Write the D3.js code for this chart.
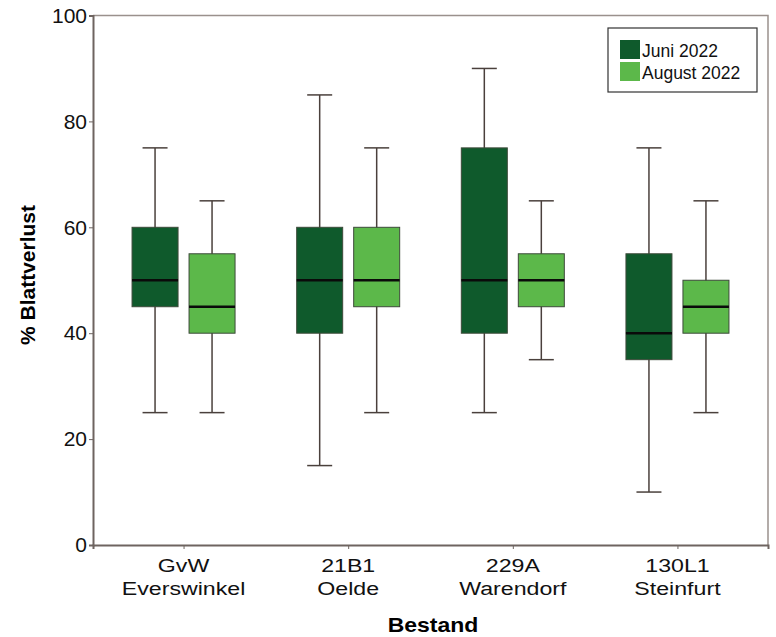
<!DOCTYPE html>
<html>
<head>
<meta charset="utf-8">
<script src="https://cdn.jsdelivr.net/npm/d3@7"></script>
<style>
  body { margin: 0; background: #fff; }
  svg { font-family: "Liberation Sans", Arial, sans-serif; }
</style>
</head>
<body>
<svg id="chart" width="776" height="637"></svg>
<script>
// data
const sites = ['GvW|Everswinkel', '21B1|Oelde', '229A|Warendorf', '130L1|Steinfurt'];
const seriesNames = ['Juni 2022', 'August 2022'];
const seriesColors = ['#0f5a2c', '#5cb84a'];
// [whisker low, q1, median, q3, whisker high]
const juni = [
    [25, 45, 50, 60, 75],
    [15, 40, 50, 60, 85],
    [25, 40, 50, 75, 90],
    [10, 35, 40, 55, 75]
];
const august = [
    [25, 40, 45, 55, 65],
    [25, 45, 50, 60, 75],
    [35, 45, 50, 55, 65],
    [25, 40, 45, 50, 65]
];
const yTicks = [0, 20, 40, 60, 80, 100];

const svg = d3.select('#chart');
const plotL = 93, plotR = 768, plotT = 15.5, plotB = 545;
const axisColor = '#6e6460';

const x = d3.scalePoint().domain(sites).range([plotL, plotR]).padding(0.55);
const y = d3.scaleLinear().domain([0, 100]).range([plotB, plotT]);

// frame (top & right)
svg.append('path')
    .attr('d', `M${plotL},${plotT}H${plotR}V${plotB}`)
    .attr('fill', 'none').attr('stroke', '#9a918d').attr('stroke-width', 1.5);

// axes
const yAxis = svg.append('g').attr('transform', `translate(${plotL},0)`)
    .call(d3.axisLeft(y).tickValues(yTicks).tickSize(4).tickPadding(2));
const xAxis = svg.append('g').attr('transform', `translate(0,${plotB})`)
    .call(d3.axisBottom(x).tickSize(4).tickFormat(''));
[yAxis, xAxis].forEach(a => {
    a.select('.domain').attr('stroke', axisColor).attr('stroke-width', 2);
    a.selectAll('.tick line').attr('stroke', axisColor);
});
yAxis.selectAll('text').attr('font-size', 21).attr('fill', '#111')
    .attr('font-family', 'Liberation Sans, Arial, sans-serif');

// category labels (two lines, the picture is a bit stretched sideways)
sites.forEach(s => {
    const parts = s.split('|');
    const g = svg.append('g').attr('transform', `translate(${x(s)},0) scale(1.22,1)`);
    parts.forEach((p, k) => {
        g.append('text').attr('x', 0).attr('y', 572 + k * 23)
            .attr('text-anchor', 'middle').attr('font-size', 19).attr('fill', '#111')
            .text(p);
    });
});

svg.append('text').attr('transform', 'translate(433,632) scale(1.15,1)')
    .attr('text-anchor', 'middle').attr('font-size', 20).attr('font-weight', 'bold')
    .text('Bestand');
svg.append('text').attr('transform', 'translate(35,275) rotate(-90)')
    .attr('text-anchor', 'middle').attr('font-size', 21).attr('font-weight', 'bold')
    .text('% Blattverlust');

// boxes
const offset = 28.5, boxW = 46, capW = 25;
const whiskerColor = '#4a403c';
[juni, august].forEach((series, si) => {
    series.forEach((d, i) => {
        const cx = x(sites[i]) + (si === 0 ? -offset : offset);
        const g = svg.append('g');
        g.append('line').attr('x1', cx).attr('x2', cx).attr('y1', y(d[0])).attr('y2', y(d[4]))
            .attr('stroke', whiskerColor).attr('stroke-width', 1.5);
        [d[0], d[4]].forEach(v => {
            g.append('line').attr('x1', cx - capW / 2).attr('x2', cx + capW / 2)
                .attr('y1', y(v)).attr('y2', y(v))
                .attr('stroke', whiskerColor).attr('stroke-width', 1.5);
        });
        g.append('rect').attr('x', cx - boxW / 2).attr('width', boxW)
            .attr('y', y(d[3])).attr('height', y(d[1]) - y(d[3]))
            .attr('fill', seriesColors[si]).attr('stroke', '#3d4a3a').attr('stroke-width', 1);
        g.append('line').attr('x1', cx - boxW / 2).attr('x2', cx + boxW / 2)
            .attr('y1', y(d[2])).attr('y2', y(d[2]))
            .attr('stroke', '#0a0a0a').attr('stroke-width', 2.5);
    });
});

// legend
const lg = svg.append('g').attr('transform', 'translate(608,28)');
lg.append('rect').attr('width', 149).attr('height', 64)
    .attr('fill', '#fff').attr('stroke', '#333').attr('stroke-width', 1.2);
seriesNames.forEach((n, i) => {
    lg.append('rect').attr('x', 12).attr('y', 12 + i * 22).attr('width', 20).attr('height', 19)
        .attr('fill', seriesColors[i]);
    lg.append('text').attr('x', 34).attr('y', 29 + i * 22)
        .attr('font-size', 17.5).attr('fill', '#111').text(n);
});
</script>
</body>
</html>
